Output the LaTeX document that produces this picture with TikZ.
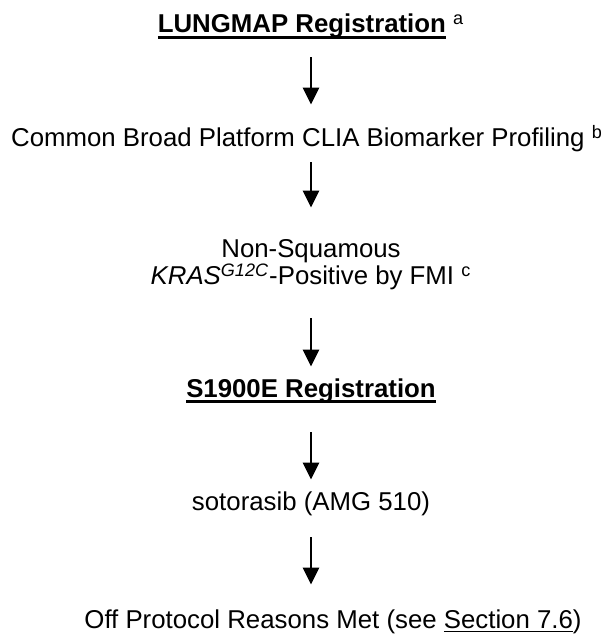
\documentclass[tikz,border=0pt]{standalone}
\usepackage{fontspec}
\setmainfont{Liberation Sans}
\usetikzlibrary{arrows.meta}

% thick rule under the registration steps
\newcommand{\thickul}[1]{\setbox0\hbox{#1}\rlap{\raisebox{-2.8pt}{\rule{\wd0}{1.2pt}}}\box0\relax}
\newcommand{\thinul}[1]{\setbox0\hbox{#1}\rlap{\raisebox{-2.2pt}{\rule{\wd0}{0.5pt}}}\box0\relax}

\begin{document}
\begin{tikzpicture}[x=0.5pt,y=-0.5pt,
  stage/.style={anchor=base,inner sep=0pt,text height=9pt,text depth=2.5pt,
                font=\fontsize{12.9}{15.5}\selectfont},
  regstage/.style={stage,font=\fontsize{12.9}{15.5}\selectfont\bfseries},
  flow/.style={line width=1.3pt,-{Triangle[width=8pt,length=8.5pt]}}]
%\draw[help lines] (0,0) grid[step=50] (606,635);
\useasboundingbox (0,0) rectangle (606,635);

% x of the arrows
\pgfmathsetmacro{\Xmid}{311};

% the steps, by baseline
\node[regstage] (lungmap) at (\Xmid,33) {\thickul{LUNGMAP Registration} \textsuperscript{\mdseries a}};
\node[stage] (profiling) at (\Xmid-4,147) {Common Broad Platform CLIA Biomarker Profiling \textsuperscript{b}};
\node[stage] (nonsq) at (\Xmid,258) {Non-Squamous};
\node[stage] (kras) at (\Xmid,285) {\textit{KRAS}\textsuperscript{\textit{G12C}}-Positive by FMI \textsuperscript{c}};
\node[regstage] (s1900e) at (\Xmid,397) {\thickul{S1900E Registration}};
\node[stage] (soto) at (\Xmid,510) {sotorasib (AMG 510)};
\node[stage] (offprot) at (333,628) {Off Protocol Reasons Met (see \thinul{Section 7.6})};

% arrows between the steps
\draw [flow,shorten <=9.5pt,shorten >=12pt] (lungmap.south) -- (lungmap.south |- profiling.north);
\draw [flow,shorten <=5pt,shorten >=16pt] (profiling.south -| nonsq.north) -- (nonsq.north);
\draw [flow,shorten <=14pt,shorten >=6pt] (kras.south) -- (kras.south |- s1900e.north);
\draw [flow,shorten <=15pt,shorten >=6pt] (s1900e.south) -- (s1900e.south |- soto.north);
\draw [flow,shorten <=11pt,shorten >=12.5pt] (soto.south) -- (soto.south |- offprot.north);
\end{tikzpicture}
\end{document}
